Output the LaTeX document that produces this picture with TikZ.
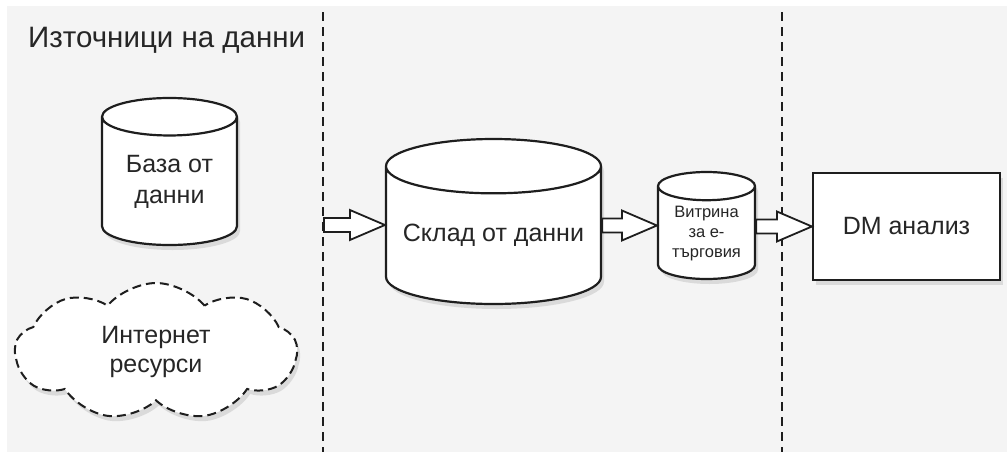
\documentclass[tikz,border=0pt]{standalone}
\usepackage{fontspec}
\setmainfont{Liberation Sans}
\usepackage{xcolor}
\definecolor{panelgrey}{HTML}{F4F4F4}
\definecolor{inkdark}{HTML}{1E1E1E}
\definecolor{textgrey}{HTML}{262626}
\usepackage{tikz}
\usetikzlibrary{positioning,shapes.geometric,shapes.symbols,shadows,calc}

\begin{document}
\begin{tikzpicture}[x=1pt,y=-1pt,
  store/.style={cylinder,shape border rotate=90,anchor=shape center,draw=inkdark,line width=2.2pt,fill=white,align=center,text=textgrey,inner sep=0pt,
    drop shadow={shadow xshift=3pt,shadow yshift=-5pt,opacity=0.22}},
  srcweb/.style={cloud,cloud puffs=9,cloud puff arc=100,cloud ignores aspect,draw=inkdark,line width=2pt,dash pattern=on 9pt off 5pt,fill=white,
    align=center,text=textgrey,inner xsep=0pt,inner ysep=-14pt,drop shadow={shadow xshift=3pt,shadow yshift=-5pt,opacity=0.22}},
  dmbox/.style={rectangle,draw=inkdark,line width=2.2pt,fill=white,align=center,text=textgrey,inner sep=0pt,
    drop shadow={shadow xshift=3pt,shadow yshift=-5pt,opacity=0.22}},
  divider/.style={inkdark,line width=2.2pt,dash pattern=on 9pt off 6pt},
  fatarr/.style={draw=inkdark,line width=1.8pt,fill=white,line join=miter}]
  \useasboundingbox (0,0) rectangle (1007,456);
  \fill[panelgrey] (7,6) rectangle (1007,452);
  % zone borders
  \draw[divider] (323,12) -- (323,452);
  \draw[divider] (782,12) -- (782,452);
  \node[anchor=base west,text=textgrey,font=\fontsize{29.5}{34}\selectfont,inner sep=0pt] (srctitle) at (28,47) {Източници на данни};
  % sources
  \node[store,aspect=0.43,minimum width=135pt,minimum height=147pt,font=\fontsize{25}{31}\selectfont] (db) at (169.5,171.5) {База от\\данни};
  \node[srcweb,minimum width=282pt,minimum height=137pt,font=\fontsize{25}{29}\selectfont] (web) at (156,351.5) {Интернет\\ресурси};
  % warehouse, mart, analysis
  \node[store,aspect=0.3,minimum width=215pt,minimum height=165pt,font=\fontsize{25}{30}\selectfont] (wh) at (493.5,221.5) {Склад от данни};
  \node[store,aspect=0.41,minimum width=97pt,minimum height=107pt,font=\fontsize{16.5}{20}\selectfont] (mart) at (706.5,225.5) {Витрина\\за е-\\търговия};
  \node[dmbox,minimum width=187pt,minimum height=107pt,font=\fontsize{25}{30}\selectfont] (dm) at (906.5,226.5) {DM анализ};
  \coordinate (feed) at (324,225);
  % hollow block arrows
  \draw[fatarr] let \p1=(feed), \p2=(wh.west) in
    (\x1,\y1+7pt) -- (\x2-35pt,\y1+7pt) -- (\x2-35pt,\y1+15pt) -- (\x2,\y1) -- (\x2-35pt,\y1-15pt) -- (\x2-35pt,\y1-7pt) -- (\x1,\y1-7pt) -- cycle;
  \draw[fatarr] let \p1=(wh.east), \p2=(mart.west), \p3=(mart.shape center) in
    (\x1,\y3+7pt) -- (\x2-35pt,\y3+7pt) -- (\x2-35pt,\y3+15pt) -- (\x2,\y3) -- (\x2-35pt,\y3-15pt) -- (\x2-35pt,\y3-7pt) -- (\x1,\y3-7pt) -- cycle;
  \draw[fatarr] let \p1=(mart.east), \p2=(dm.west) in
    (\x1,\y2+7pt) -- (\x2-35pt,\y2+7pt) -- (\x2-35pt,\y2+15pt) -- (\x2,\y2) -- (\x2-35pt,\y2-15pt) -- (\x2-35pt,\y2-7pt) -- (\x1,\y2-7pt) -- cycle;
\end{tikzpicture}
\end{document}
